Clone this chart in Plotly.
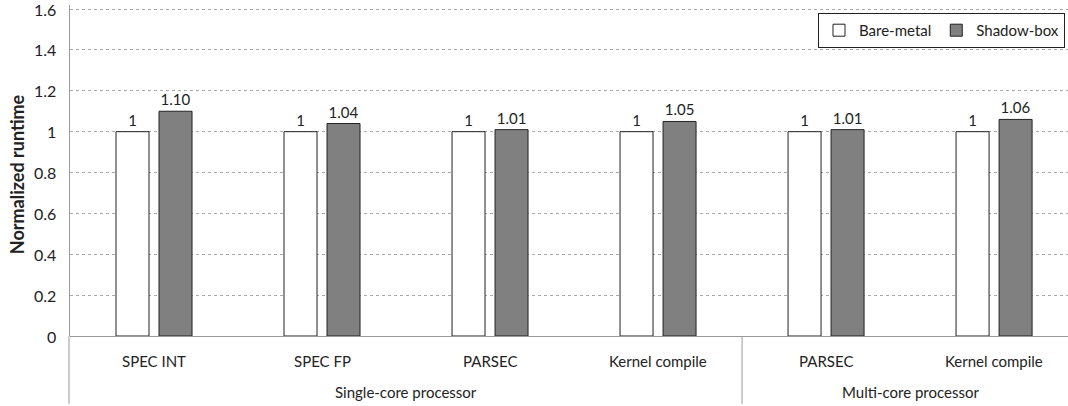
import plotly.graph_objects as go

categories = ["SPEC INT", "SPEC FP", "PARSEC", "Kernel compile", "PARSEC", "Kernel compile"]
groups = ["Single-core processor", "Multi-core processor"]
group_sizes = [4, 2]
bare_metal = [1, 1, 1, 1, 1, 1]
shadow_box = [1.10, 1.04, 1.01, 1.05, 1.01, 1.06]
y_ticks = [0, 0.2, 0.4, 0.6, 0.8, 1, 1.2, 1.4, 1.6]
y_tick_text = ["0", "0.2", "0.4", "0.6", "0.8", "1", "1.2", "1.4", "1.6"]

FONT = "Lato"
TXT = "#222222"
xs = list(range(len(categories)))

fig = go.Figure()
fig.add_trace(go.Bar(
    x=xs, y=bare_metal, name="Bare-metal",
    marker=dict(color="white", line=dict(color="#222222", width=1)),
    text=[f"{v:g}" for v in bare_metal], textposition="outside",
    textfont=dict(family=FONT, size=15, color=TXT), cliponaxis=False,
))
fig.add_trace(go.Bar(
    x=xs, y=shadow_box, name="Shadow-box",
    marker=dict(color="#808080", line=dict(color="#222222", width=1)),
    text=[f"{v:.2f}" for v in shadow_box], textposition="outside",
    textfont=dict(family=FONT, size=15, color=TXT), cliponaxis=False,
))

annotations = []
# y tick labels
for v, t in zip(y_ticks, y_tick_text):
    annotations.append(dict(x=0, y=v, xref="paper", yref="y", text=t, showarrow=False,
                            xanchor="right", yanchor="middle", xshift=-12,
                            font=dict(family=FONT, size=16, color=TXT)))
# y title
annotations.append(dict(x=0, y=0.489, xref="paper", yref="paper", text="<b>Normalized runtime</b>",
                        showarrow=False, textangle=-90, xanchor="center", yanchor="middle",
                        xshift=-53, font=dict(family=FONT, size=18, color=TXT)))
for i, c in enumerate(categories):
    annotations.append(dict(x=i, y=0, xref="x", yref="paper", text=c, showarrow=False,
                            yanchor="middle", yshift=-25,
                            font=dict(family=FONT, size=15, color=TXT)))
start = 0
seps = []
for g, n in zip(groups, group_sizes):
    center = start + (n - 1) / 2
    annotations.append(dict(x=center, y=0, xref="x", yref="paper", text=g, showarrow=False,
                            yanchor="middle", yshift=-56,
                            font=dict(family=FONT, size=15, color=TXT)))
    start += n
    seps.append(start - 0.5)

shapes = [dict(type="line", xref="paper", yref="paper", x0=-0.001, x1=-0.001, y0=0, y1=-0.205,
               line=dict(color="#999999", width=1))]
for s in seps[:-1]:
    shapes.append(dict(type="line", xref="x", yref="paper", x0=s, x1=s, y0=0, y1=-0.205,
                       line=dict(color="#999999", width=1)))

fig.update_layout(
    width=1068, height=406,
    margin=dict(l=70, r=0, t=5, b=70),
    plot_bgcolor="white", paper_bgcolor="white",
    bargap=0.488, bargroupgap=0.2326,
    barmode="group",
    font=dict(family=FONT, size=14, color=TXT),
    xaxis=dict(range=[-0.5, 5.44], showticklabels=False, showgrid=False, zeroline=False,
               showline=False, ticks="", automargin=False),
    yaxis=dict(range=[0, 1.62], tickvals=y_ticks, showticklabels=False,
               showgrid=True, gridcolor="#aaaaaa", griddash="3px,3px", gridwidth=1,
               zeroline=True, zerolinecolor="#999999", zerolinewidth=1,
               showline=True, linecolor="#999999", linewidth=1,
               ticks="", automargin=False),
    legend=dict(orientation="h", x=0.7495, y=0.976, xanchor="left", yanchor="top",
                bordercolor="#222222", borderwidth=1, bgcolor="white",
                font=dict(family=FONT, size=15, color=TXT),
                tracegroupgap=0),
    annotations=annotations, shapes=shapes,
    showlegend=True,
)

fig.write_html("out.html", config={"displayModeBar": False},
               post_script="document.body.style.margin='0';document.body.style.overflow='hidden';")
